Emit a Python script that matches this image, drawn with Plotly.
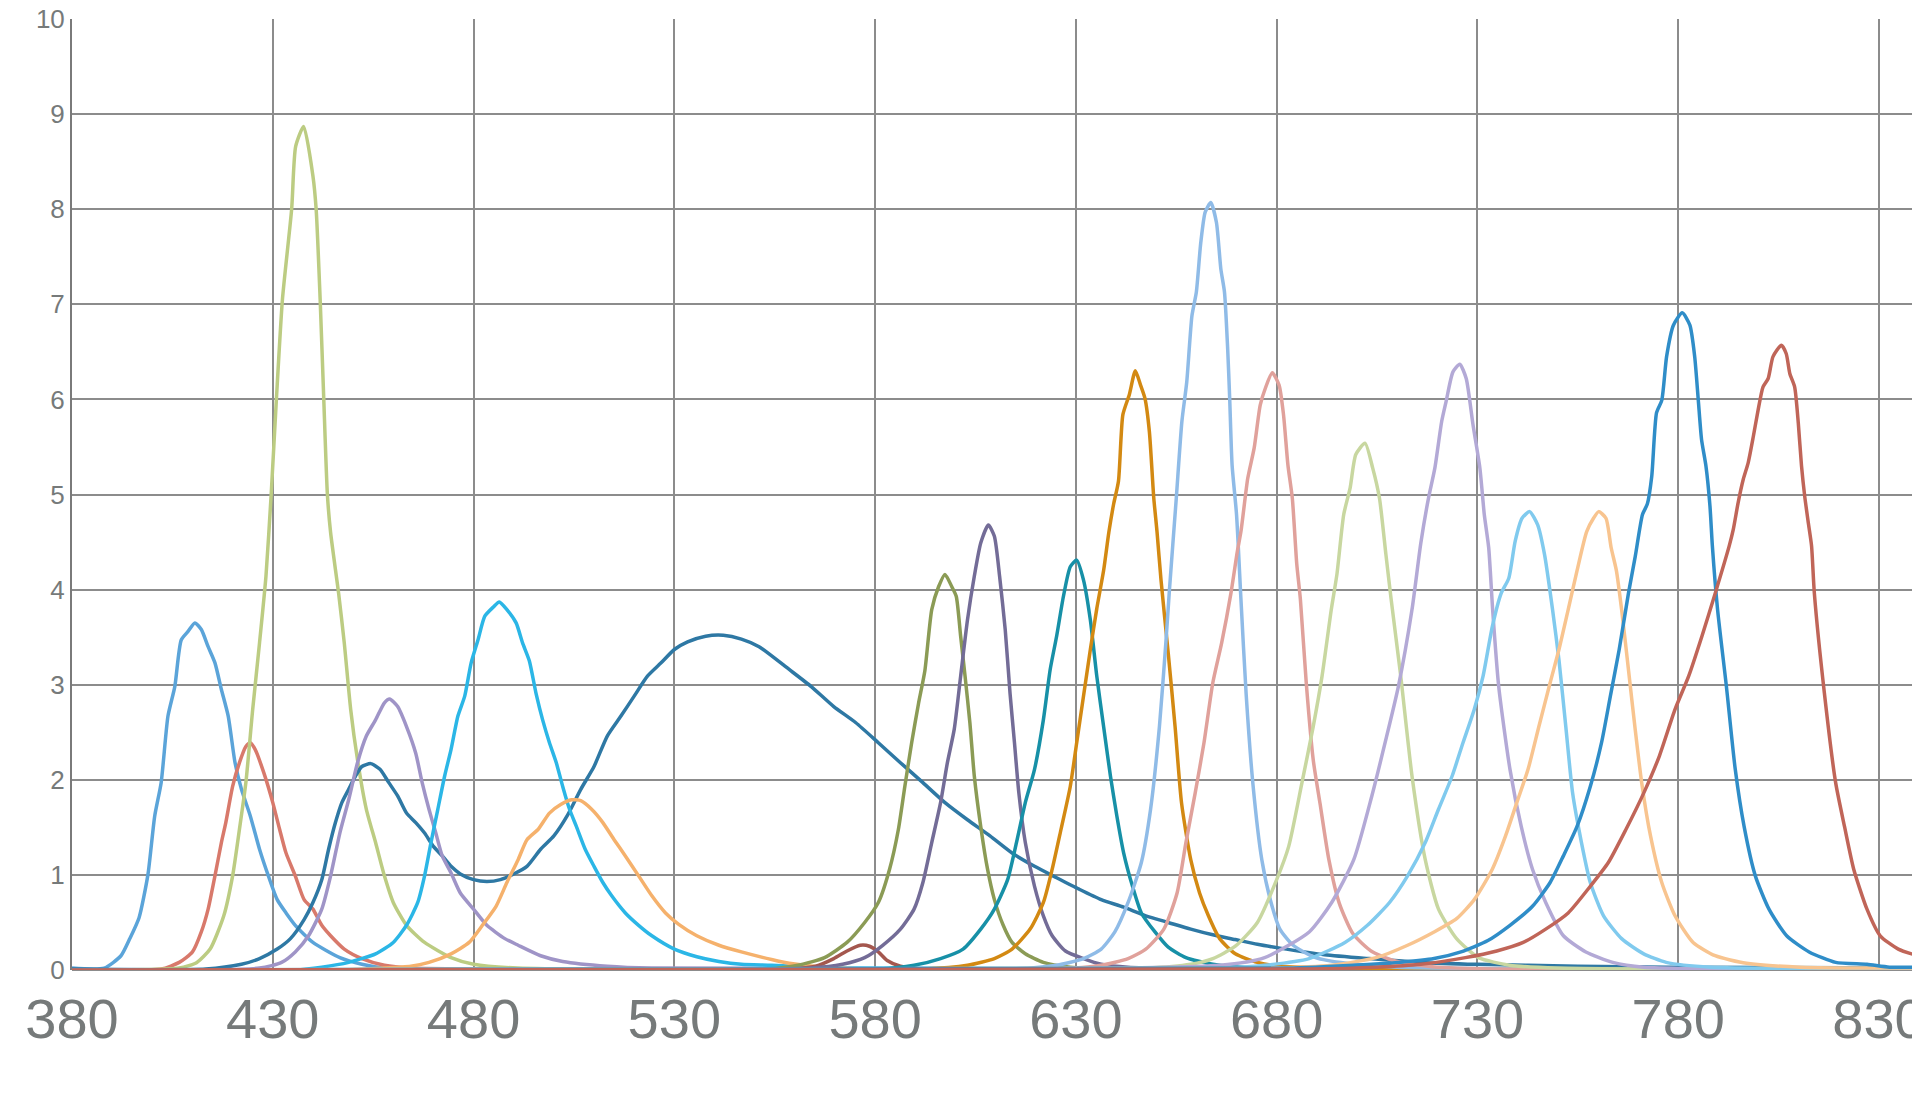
import plotly.graph_objects as go

# ---- data (wavelength nm, relative intensity) ----
s1_x = [380, 388, 392.2, 394.4, 396.7, 398.9, 400.6, 402.2, 403.9, 405.6, 407.2, 408.9, 410.6, 412.2, 413.9, 415.6, 417.2, 418.9, 420.6, 422.2, 424.4, 426.7, 428.9, 431.1, 433.3, 435.6, 440, 446.7, 452.2, 457.8, 470, 842]
s1_y = [0.02, 0.02, 0.15, 0.33, 0.55, 1.0, 1.62, 1.97, 2.67, 2.98, 3.47, 3.56, 3.65, 3.58, 3.40, 3.23, 2.95, 2.67, 2.18, 1.90, 1.62, 1.27, 0.99, 0.74, 0.60, 0.47, 0.29, 0.13, 0.06, 0.02, 0.01, 0.0]

s2_x = [380, 402.2, 406.7, 410, 412.2, 413.9, 415.6, 417.2, 418.3, 420, 421.7, 423.3, 424.4, 425.6, 427.8, 430, 431.7, 433.3, 435.6, 437.8, 440, 442.2, 444.4, 447.8, 452.2, 457.8, 464.4, 480, 842]
s2_y = [0.0, 0.01, 0.08, 0.19, 0.40, 0.64, 0.99, 1.34, 1.55, 1.93, 2.18, 2.35, 2.39, 2.32, 2.07, 1.76, 1.48, 1.23, 0.99, 0.74, 0.64, 0.47, 0.36, 0.22, 0.12, 0.05, 0.02, 0.01, 0.0]

s3_x = [380, 406.7, 411.1, 414.4, 417.8, 420, 421.7, 423.3, 425, 426.7, 428.3, 429.6, 430.9, 432.4, 434.7, 435.7, 437.7, 440, 440.8, 441.8, 442.7, 443.6, 444.4, 446.4, 447.8, 449.4, 451.1, 453.3, 455.6, 457.8, 460, 463.3, 467.8, 474.4, 480, 491, 842]
s3_y = [0.0, 0.02, 0.08, 0.22, 0.57, 0.99, 1.48, 1.97, 2.74, 3.44, 4.14, 5.0, 6.0, 7.05, 8.0, 8.66, 8.87, 8.35, 8.0, 7.05, 6.0, 5.0, 4.6, 3.96, 3.44, 2.74, 2.21, 1.69, 1.34, 0.99, 0.71, 0.47, 0.29, 0.13, 0.06, 0.02, 0.0]

s4_x = [380, 413.3, 422.2, 426.7, 431.1, 434.4, 437.8, 440, 442.2, 443.9, 445.6, 447.2, 448.9, 450.6, 452.2, 454.4, 456.7, 458.9, 461.1, 463.3, 465.6, 467.8, 470, 472.2, 474.4, 476.7, 480, 483.3, 486.7, 490, 493.3, 496.7, 500, 503.3, 506.7, 510, 513.3, 516.7, 520, 523.3, 526.7, 530, 533.3, 537.8, 542.2, 546.7, 551.1, 558.6, 564.1, 569.7, 575.2, 580.8, 586.3, 591.9, 597.4, 603, 608.6, 614.1, 619.7, 625.2, 630.8, 636.3, 641.9, 647.4, 653, 658.6, 664.1, 669.7, 675.2, 680.8, 691.9, 703, 716, 730, 755, 777, 842]
s4_y = [0.01, 0.01, 0.06, 0.12, 0.22, 0.33, 0.53, 0.71, 0.95, 1.27, 1.55, 1.76, 1.90, 2.04, 2.14, 2.17, 2.11, 1.97, 1.83, 1.65, 1.55, 1.44, 1.30, 1.20, 1.09, 1.01, 0.95, 0.93, 0.95, 1.01, 1.09, 1.27, 1.41, 1.62, 1.90, 2.14, 2.46, 2.67, 2.88, 3.09, 3.23, 3.37, 3.45, 3.51, 3.52, 3.48, 3.40, 3.16, 2.98, 2.77, 2.60, 2.39, 2.18, 1.97, 1.76, 1.58, 1.41, 1.23, 1.09, 0.97, 0.85, 0.74, 0.66, 0.57, 0.50, 0.43, 0.37, 0.32, 0.27, 0.23, 0.16, 0.12, 0.08, 0.06, 0.04, 0.03, 0.02]

s5_x = [380, 426.7, 432.2, 435.6, 438.9, 442.2, 444.4, 446.7, 448.9, 451.1, 453.3, 455.6, 457.8, 459.1, 461.1, 463.3, 465.6, 467.2, 468.9, 470.6, 472.2, 474.4, 476.7, 480, 483.3, 487.8, 491.1, 496.7, 502.2, 513.3, 524.4, 842]
s5_y = [0.0, 0.02, 0.08, 0.19, 0.36, 0.64, 0.99, 1.44, 1.79, 2.18, 2.46, 2.63, 2.81, 2.85, 2.77, 2.56, 2.28, 1.97, 1.69, 1.44, 1.20, 1.02, 0.81, 0.64, 0.47, 0.33, 0.26, 0.15, 0.09, 0.04, 0.02, 0.0]

s6_x = [380, 435.6, 442.2, 448.9, 455.6, 460, 463.3, 466.1, 467.8, 469.4, 471.1, 472.8, 474.4, 476.1, 477.8, 479.4, 481.1, 482.8, 485, 486.4, 488.3, 490.6, 492.2, 493.9, 495.6, 497.2, 498.9, 500.6, 502.2, 503.9, 505.6, 507.8, 510, 512.2, 514.4, 517.8, 521.1, 524.4, 530, 535.6, 541.1, 546.7, 554.2, 570, 842]
s6_y = [0.0, 0.0, 0.03, 0.08, 0.17, 0.29, 0.47, 0.71, 0.99, 1.34, 1.69, 2.04, 2.32, 2.67, 2.88, 3.23, 3.47, 3.72, 3.82, 3.87, 3.79, 3.65, 3.44, 3.25, 2.90, 2.63, 2.39, 2.18, 1.93, 1.69, 1.51, 1.27, 1.09, 0.92, 0.78, 0.60, 0.47, 0.36, 0.22, 0.14, 0.09, 0.06, 0.05, 0.02, 0.0]

s7_x = [380, 446.7, 457.8, 464.4, 468.9, 474.4, 478.9, 482.2, 485.6, 488.3, 491.1, 493.3, 496.1, 498.9, 501.7, 504.4, 506.7, 509.4, 512.2, 515, 517.8, 521.1, 524.4, 527.8, 531.1, 535.6, 541.1, 546.7, 554.2, 558.6, 570, 842]
s7_y = [0.0, 0.0, 0.02, 0.04, 0.08, 0.17, 0.29, 0.47, 0.67, 0.92, 1.16, 1.37, 1.48, 1.65, 1.74, 1.79, 1.78, 1.69, 1.55, 1.37, 1.20, 0.99, 0.78, 0.60, 0.48, 0.36, 0.26, 0.19, 0.11, 0.07, 0.02, 0.0]

s8_x = [380, 558.6, 565.2, 569.7, 573, 576.3, 578.6, 580.8, 583, 586.3, 591.9, 842]
s8_y = [0.0, 0.01, 0.04, 0.12, 0.20, 0.26, 0.25, 0.19, 0.10, 0.04, 0.01, 0.0]

s9_x = [380, 553, 560.8, 567.4, 573, 577.4, 580.8, 583.6, 585.8, 587.4, 589.1, 590.8, 592.4, 594.1, 595.8, 597.4, 599.1, 600.2, 601.3, 602.4, 603.6, 604.7, 606.3, 608, 609.7, 611.9, 614.1, 617.4, 621.9, 628.6, 636.3, 842]
s9_y = [0.0, 0.01, 0.05, 0.13, 0.29, 0.50, 0.71, 1.06, 1.48, 1.93, 2.39, 2.80, 3.15, 3.79, 4.03, 4.16, 4.03, 3.93, 3.51, 3.09, 2.60, 2.04, 1.51, 1.06, 0.74, 0.47, 0.29, 0.17, 0.08, 0.03, 0.01, 0.0]

s10_x = [380, 564.1, 571.9, 577.4, 581.9, 586.3, 589.7, 591.9, 594.1, 596.3, 598, 599.7, 601.3, 603, 604.7, 606.3, 608.2, 609.7, 611, 612.4, 613.6, 614.7, 615.8, 617.4, 619.7, 621.9, 624.1, 627.4, 631.9, 636.3, 643, 842]
s10_y = [0.0, 0.02, 0.06, 0.13, 0.26, 0.43, 0.64, 0.92, 1.34, 1.76, 2.18, 2.53, 3.09, 3.68, 4.14, 4.49, 4.68, 4.56, 4.14, 3.58, 2.91, 2.39, 1.86, 1.34, 0.88, 0.57, 0.36, 0.20, 0.12, 0.06, 0.03, 0.0]

s11_x = [380, 580.8, 589.7, 596.3, 601.9, 606.3, 609.7, 613, 615.2, 617.4, 619.7, 621.9, 623.6, 625.2, 626.9, 628.6, 630.2, 631.9, 633.6, 635.2, 636.9, 638.6, 640.2, 641.9, 644.1, 646.3, 649.7, 653, 657.4, 664.1, 675.2, 842]
s11_y = [0.0, 0.01, 0.05, 0.12, 0.22, 0.43, 0.64, 0.95, 1.34, 1.76, 2.11, 2.63, 3.16, 3.51, 3.93, 4.24, 4.31, 4.10, 3.68, 3.09, 2.56, 2.04, 1.62, 1.23, 0.88, 0.60, 0.40, 0.24, 0.13, 0.06, 0.02, 0.0]

s12_x = [380, 591.9, 603, 609.7, 614.1, 618.6, 621.9, 624.1, 626.3, 628.6, 630.2, 631.9, 633.6, 635.2, 636.9, 638.2, 639.4, 640.6, 641.7, 643.3, 644.8, 646.1, 647.2, 648.3, 649.4, 650.2, 651.2, 653, 654.7, 656.3, 658.6, 660.8, 663, 665.8, 669.7, 675.2, 680.8, 842]
s12_y = [0.0, 0.01, 0.05, 0.12, 0.22, 0.43, 0.71, 1.06, 1.48, 1.93, 2.39, 2.88, 3.37, 3.80, 4.20, 4.60, 4.90, 5.14, 5.84, 6.05, 6.30, 6.15, 6.01, 5.66, 4.96, 4.61, 4.10, 3.33, 2.56, 1.76, 1.16, 0.81, 0.57, 0.33, 0.17, 0.08, 0.04, 0.0]

s13_x = [380, 614.1, 625.2, 631.9, 636.3, 639.7, 643, 646.3, 648.6, 650.8, 652.4, 653.3, 655, 656.4, 657.6, 658.9, 660, 661.1, 662.2, 663.6, 665, 666.1, 667, 667.8, 668.3, 668.9, 670, 671.1, 672.4, 674.1, 676.3, 678.6, 680.8, 684.1, 689.7, 697.4, 710, 842]
s13_y = [0.0, 0.01, 0.05, 0.12, 0.22, 0.40, 0.71, 1.13, 1.69, 2.56, 3.44, 4.0, 4.96, 5.77, 6.18, 6.88, 7.13, 7.65, 7.97, 8.07, 7.86, 7.37, 7.13, 6.53, 6.01, 5.31, 4.79, 3.90, 2.90, 1.95, 1.16, 0.71, 0.43, 0.26, 0.13, 0.07, 0.03, 0.0]

s14_x = [380, 625.2, 636.3, 643, 647.4, 651.9, 655.2, 657.4, 659.7, 661.9, 664.1, 666.3, 668.6, 670.2, 671.1, 672.8, 674.4, 675.9, 677.2, 678.9, 680.6, 681.7, 682.8, 683.9, 685, 685.9, 687.4, 689.1, 690.8, 693, 695.6, 699, 703.5, 709, 720, 842]
s14_y = [0.0, 0.01, 0.05, 0.12, 0.22, 0.43, 0.81, 1.34, 1.86, 2.39, 3.02, 3.44, 3.96, 4.40, 4.61, 5.17, 5.49, 5.94, 6.12, 6.28, 6.15, 5.84, 5.31, 4.96, 4.27, 3.90, 3.00, 2.21, 1.75, 1.16, 0.70, 0.38, 0.20, 0.10, 0.03, 0.0]

s15_x = [380, 647.4, 658.6, 664.1, 669.7, 675.2, 680, 683, 686.3, 689.1, 691.3, 693.6, 695, 696.7, 698.3, 699.7, 702, 703.9, 705.6, 707.2, 708.5, 710.9, 713.7, 717, 720.3, 724.8, 730.3, 738, 750, 842]
s15_y = [0.0, 0.02, 0.06, 0.12, 0.25, 0.50, 0.95, 1.30, 1.97, 2.56, 3.09, 3.79, 4.16, 4.79, 5.07, 5.42, 5.54, 5.28, 4.96, 4.37, 3.90, 3.09, 2.04, 1.16, 0.64, 0.33, 0.13, 0.05, 0.02, 0.0]

s16_x = [380, 665.9, 677, 688.1, 693.7, 699.2, 703.7, 707, 710.3, 713.7, 715.9, 717.8, 719.4, 721.1, 722.2, 723.9, 725.6, 727.2, 728.9, 730.6, 731.7, 732.8, 733.8, 735.3, 738.1, 740.9, 743.7, 747, 751.4, 757, 763.7, 771.4, 842]
s16_y = [0.0, 0.05, 0.13, 0.40, 0.71, 1.16, 1.83, 2.39, 2.98, 3.79, 4.49, 4.96, 5.28, 5.77, 5.98, 6.29, 6.37, 6.22, 5.73, 5.28, 4.79, 4.44, 3.78, 2.98, 2.11, 1.51, 1.06, 0.71, 0.36, 0.19, 0.08, 0.03, 0.0]

s17_x = [380, 665.9, 677, 688.1, 697, 702.6, 708.1, 712.6, 717, 720.3, 723.7, 726.4, 729.2, 731.4, 733.7, 735.9, 737.8, 739.4, 741.1, 743, 745, 746.7, 748.7, 750.3, 752, 753.7, 755.9, 758.1, 761.4, 765.9, 771.4, 777, 788.1, 842]
s17_y = [0.0, 0.02, 0.05, 0.12, 0.29, 0.47, 0.71, 0.99, 1.34, 1.69, 2.04, 2.39, 2.74, 3.09, 3.61, 3.96, 4.12, 4.51, 4.75, 4.82, 4.68, 4.37, 3.79, 3.26, 2.56, 1.86, 1.34, 0.92, 0.57, 0.33, 0.17, 0.08, 0.03, 0.02]

s18_x = [380, 677, 693.7, 704.8, 712.6, 719.2, 724.8, 729.2, 733.7, 737, 739.8, 742.6, 745.3, 748.1, 750.3, 752.6, 754.8, 757.2, 758.9, 760.2, 762, 763.3, 764.6, 765.9, 767.6, 769.2, 770.9, 773.1, 775.9, 779.2, 783.7, 789.2, 797, 810.3, 842]
s18_y = [0.0, 0.02, 0.05, 0.13, 0.26, 0.40, 0.54, 0.74, 1.06, 1.41, 1.76, 2.11, 2.56, 3.02, 3.37, 3.79, 4.20, 4.61, 4.75, 4.82, 4.75, 4.44, 4.20, 3.79, 3.16, 2.56, 1.97, 1.41, 0.92, 0.57, 0.29, 0.15, 0.07, 0.03, 0.02]

s19_x = [380, 682.6, 699.2, 710.3, 719.2, 725.9, 732.6, 738.1, 743.7, 748.1, 751.4, 754.8, 758.1, 760.9, 763.1, 765.3, 767.6, 769.3, 771.1, 772.3, 773.4, 774.6, 775.9, 777.1, 778.8, 781, 782.9, 784.1, 785, 785.8, 786.9, 787.9, 788.5, 789.8, 792, 794.2, 796.4, 799.2, 802.6, 807, 812.6, 819.2, 827, 832.6, 842]
s19_y = [0.0, 0.02, 0.05, 0.08, 0.12, 0.19, 0.31, 0.47, 0.67, 0.92, 1.20, 1.51, 1.93, 2.39, 2.88, 3.37, 3.96, 4.35, 4.79, 4.90, 5.19, 5.86, 5.99, 6.45, 6.78, 6.91, 6.78, 6.45, 5.99, 5.58, 5.30, 4.88, 4.46, 3.79, 2.98, 2.11, 1.51, 0.99, 0.64, 0.36, 0.19, 0.08, 0.06, 0.03, 0.03]

s20_x = [380, 688.1, 704.8, 715.9, 727, 734.8, 741.4, 747, 752.6, 758.1, 762.6, 767, 771.4, 775.3, 779.2, 782.6, 785.9, 789.2, 792.7, 793.7, 794.9, 796.2, 797.4, 798.7, 799.9, 801.1, 802.4, 803.6, 805.7, 806.9, 807.8, 809, 809.9, 810.7, 811.5, 812.4, 813.2, 813.9, 816.4, 819.2, 821.4, 823.7, 827, 830.3, 834.8, 842]
s20_y = [0.0, 0.01, 0.03, 0.06, 0.13, 0.20, 0.29, 0.43, 0.60, 0.88, 1.13, 1.48, 1.86, 2.25, 2.74, 3.09, 3.51, 3.96, 4.46, 4.63, 4.91, 5.16, 5.33, 5.61, 5.89, 6.13, 6.22, 6.45, 6.57, 6.48, 6.27, 6.13, 5.75, 5.30, 4.98, 4.70, 4.46, 3.96, 2.91, 1.97, 1.51, 1.06, 0.64, 0.36, 0.22, 0.12]

series_x = [s1_x, s2_x, s3_x, s4_x, s5_x, s6_x, s7_x, s8_x, s9_x, s10_x,
            s11_x, s12_x, s13_x, s14_x, s15_x, s16_x, s17_x, s18_x, s19_x, s20_x]
series_y = [s1_y, s2_y, s3_y, s4_y, s5_y, s6_y, s7_y, s8_y, s9_y, s10_y,
            s11_y, s12_y, s13_y, s14_y, s15_y, s16_y, s17_y, s18_y, s19_y, s20_y]
colors = ["#5ba4d9", "#d8796b", "#bccc82", "#2e78a4", "#9f94c7", "#2bb6e6", "#f5b16c",
          "#a4574e", "#8b9b55", "#736c97", "#1790a7", "#d38912", "#8fbbe7", "#e0a19b",
          "#c8d7a0", "#b3a9d6", "#80caee", "#f8c48f", "#2f8dc8", "#c06558"]

x_ticks = [380, 430, 480, 530, 580, 630, 680, 730, 780, 830]
y_ticks = [0, 1, 2, 3, 4, 5, 6, 7, 8, 9, 10]

fig = go.Figure()
for xs, ys, c in zip(series_x, series_y, colors):
    fig.add_trace(go.Scatter(x=xs, y=ys, mode="lines",
                             line=dict(color=c, width=3.5, shape="spline", smoothing=0.6),
                             showlegend=False, hoverinfo="skip"))

grid_c = "#8c8c8c"
fig.update_layout(
    width=1920, height=1095,
    margin=dict(l=64, r=0, t=11, b=132.5, pad=0, autoexpand=False),
    paper_bgcolor="white", plot_bgcolor="white",
    font=dict(family="Liberation Sans, Arial, sans-serif", color="#767a7a"),
)
fig.update_xaxes(range=[380, 842.2], tickvals=x_ticks, ticktext=[str(v) for v in x_ticks],
                 showgrid=True, gridcolor=grid_c, gridwidth=1.5, zeroline=False,
                 showline=False, ticks="", ticklabelstandoff=11,
                 ticklabeloverflow="allow",
                 tickfont=dict(size=56, color="#767a7a"))
fig.update_yaxes(range=[0, 10], tickvals=y_ticks, ticktext=[str(v) for v in y_ticks],
                 showgrid=True, gridcolor=grid_c, gridwidth=1.5, zeroline=True,
                 zerolinecolor=grid_c, zerolinewidth=1.5,
                 showline=True, linecolor="#7a7a7a", linewidth=2,
                 ticks="", ticklabeloverflow="allow",
                 tickfont=dict(size=26, color="#767a7a"))

fig.write_html("out.html")
